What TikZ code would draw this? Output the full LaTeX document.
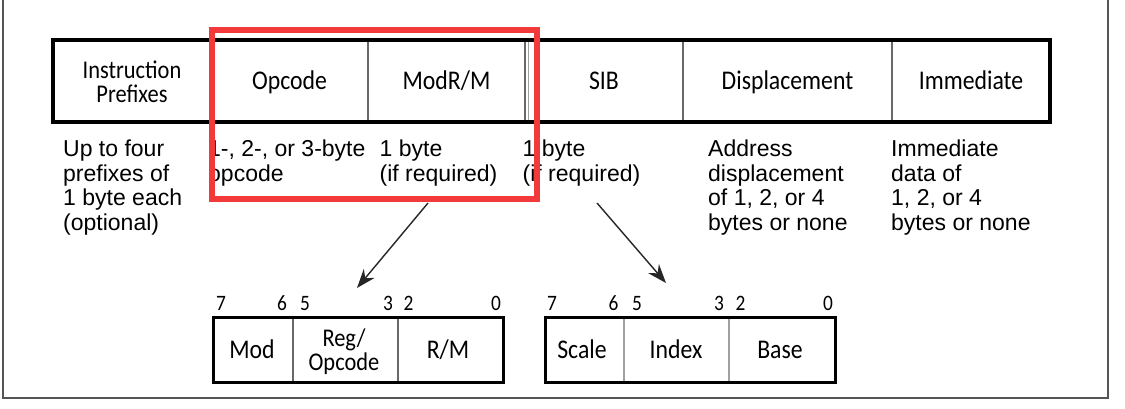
\documentclass[tikz,border=0pt]{standalone}
\usepackage{fontspec}
\setmainfont{Liberation Sans}
\newfontfamily\hdr[FakeStretch=0.88]{Carlito}
\usetikzlibrary{arrows.meta}
\definecolor{redbox}{RGB}{242,58,58}
\definecolor{framegray}{RGB}{85,85,85}
\definecolor{divgray}{RGB}{105,105,105}
\definecolor{sibgray}{RGB}{160,160,160}
\begin{document}
\begin{tikzpicture}[x=1pt,y=-1pt,
  body/.style={anchor=north west, inner sep=0pt, align=left, font=\fontsize{23}{24.5}\selectfont},
  head/.style={anchor=base, inner sep=0pt, font=\hdr\fontsize{27}{23.5}\selectfont},
  headtwo/.style={anchor=center, inner sep=0pt, align=center, font=\hdr\fontsize{25.5}{24}\selectfont},
  bitno/.style={anchor=base, inner sep=0pt, font=\hdr\fontsize{22}{22}\selectfont},
  thickbox/.style={line width=3.5pt, black},
  smallbox/.style={line width=3pt, black},
  thindiv/.style={line width=1.2pt, divgray},
  sibdiv/.style={line width=2pt, sibgray},
  framel/.style={line width=2pt, framegray},
  arrowline/.style={line width=1.4pt, black!85, -{Stealth[length=19pt,width=14pt]}},
  redframe/.style={line width=6pt, redbox}
]
\useasboundingbox (0,0) rectangle (1125,409);
\fill[white] (0,0) rectangle (1125,409);

% outer frame
\draw[framel] (3,0) -- (3,398) -- (1108,398) -- (1108,0);

% main table dividers
\draw[thindiv] (211,40) -- (211,122);
\draw[thindiv] (368,40) -- (368,122);
\draw[thindiv] (525,40) -- (525,122);
\draw[line width=0.8pt, sibgray] (528,40) -- (528,122);
\draw[thindiv] (683,40) -- (683,122);
\draw[thindiv] (892,40) -- (892,122);
\draw[thickbox] (53,40) rectangle (1050,122);

% header texts
\node[headtwo] (hpre) at (132,81.5) {Instruction\\Prefixes};
\node[head] (hop) at (289.5,90) {Opcode};
\node[head] (hmod) at (446.5,90) {ModR/M};
\node[head] (hsib) at (604,90) {SIB};
\node[head] (hdisp) at (787.5,90) {Displacement};
\node[head] (himm) at (971,90) {Immediate};

% descriptions
\node[body] (dpre) at (63,140) {Up to four\\prefixes of\\1 byte each\\(optional)};
\node[body] (dop) at (208,140) {1-, 2-, or 3-byte\\opcode};
\node[body] (dmod) at (379.5,140) {1 byte\\(if required)};
\node[body] (dsib) at (522.5,140) {1 byte\\(if required)};
\node[body] (ddisp) at (708,140) {Address\\displacement\\of 1, 2, or 4\\bytes or none};
\node[body] (dimm) at (891,140) {Immediate\\data of\\1, 2, or 4\\bytes or none};

% ModR/M byte
\draw[thindiv] (293,317) -- (293,382);
\draw[thindiv] (398,317) -- (398,382);
\draw[smallbox] (213,317) rectangle (503,382);
\node[head] (bmod) at (252,358) {Mod};
\node[headtwo] (breg) at (344,352) {Reg/\\Opcode};
\node[head] (brm) at (448,358) {R/M};
\node[bitno] (m7) at (221,310) {7};
\node[bitno] (m6) at (282,310) {6};
\node[bitno] (m5) at (305,310) {5};
\node[bitno] (m3) at (388,310) {3};
\node[bitno] (m2) at (408.5,310) {2};
\node[bitno] (m0) at (496,310) {0};

% SIB byte
\draw[sibdiv] (624,317) -- (624,382);
\draw[sibdiv] (729,317) -- (729,382);
\draw[smallbox] (545,317) rectangle (835,382);
\node[head] (bscale) at (582,358) {Scale};
\node[head] (bindex) at (676,358) {Index};
\node[head] (bbase) at (780,358) {Base};
\node[bitno] (s7) at (552,310) {7};
\node[bitno] (s6) at (613.5,310) {6};
\node[bitno] (s5) at (637,310) {5};
\node[bitno] (s3) at (719,310) {3};
\node[bitno] (s2) at (740.5,310) {2};
\node[bitno] (s0) at (828,310) {0};

% arrows
\coordinate (a1s) at (428,203);
\coordinate (a1e) at (357,288);
\coordinate (a2s) at (597,203);
\coordinate (a2e) at (666,283);
\draw[arrowline] (a1s) -- (a1e);
\draw[arrowline] (a2s) -- (a2e);

% red highlight
\draw[redframe] (211.5,30) rectangle (536.5,199);
\end{tikzpicture}
\end{document}
